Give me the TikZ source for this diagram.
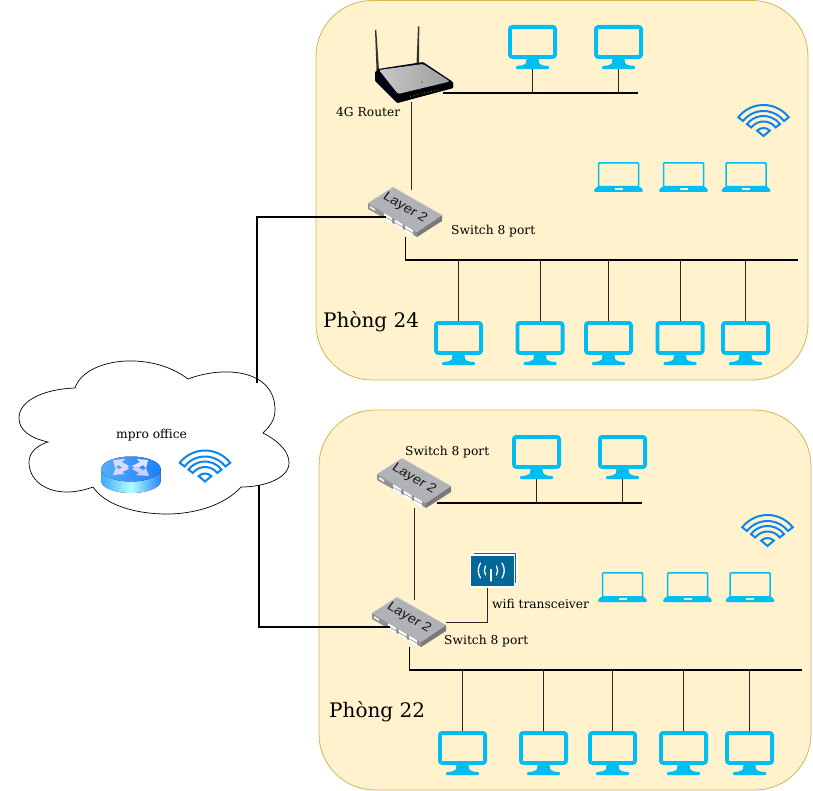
\documentclass[tikz,border=0pt]{standalone}
\usepackage{fontspec}
\setmainfont{DejaVu Serif}
\newfontfamily\swfont{Liberation Sans}
\usetikzlibrary{calc}
\definecolor{roomfill}{HTML}{FFF2CC}
\definecolor{roomline}{HTML}{D6B656}
\definecolor{pcblue}{HTML}{00BEF2}
\definecolor{wifiblue}{HTML}{0A86EE}
\definecolor{swtop}{HTML}{B0B2B5}
\definecolor{swfront}{HTML}{8F9194}
\definecolor{swside}{HTML}{77797C}
\definecolor{trblue}{HTML}{036897}
\tikzset{
  x=1pt,y=-1pt,
  room/.style={draw=roomline,fill=roomfill,line width=0.8pt,rounded corners=56pt},
  lbl/.style={font=\fontsize{12.25}{14}\selectfont,inner sep=0pt,anchor=west,text=black},
  roomlbl/.style={font=\fontsize{20}{24}\selectfont,inner sep=0pt,anchor=west,text=black},
  bus/.style={draw=black,line width=2pt},
  drop/.style={draw=black!85,line width=1pt},
  trunk/.style={draw=black,line width=2pt},
  monitoricon/.pic={
    \draw[pcblue,line width=3.8pt,rounded corners=2.5pt] (-22.6,1.9) rectangle (22.6,32);
    \fill[pcblue] (-6,33) -- (6,33) -- (6.5,38) .. controls (7.5,40) and (12,41) .. (15,41)
       -- (-15,41) .. controls (-12,41) and (-7.5,40) .. (-6.5,38) -- cycle;
    \fill[pcblue,rounded corners=1pt] (-16.5,41) rectangle (16.5,44.2);
    \coordinate (-top) at (0,0);
    \coordinate (-base) at (0,44);
  },
  laptopicon/.pic={
    \draw[pcblue,line width=1.5pt,rounded corners=1pt] (-20,0.8) rectangle (20,25);
    \fill[pcblue,rounded corners=1.5pt] (-20.5,24) -- (20.5,24) -- (24.8,28) -- (24.5,30) -- (-24.5,30) -- (-24.8,28) -- cycle;
    \fill[roomfill] (-4,26.2) rectangle (4,28);
  },
  wifiicon/.pic={
    \begin{scope}[yscale=-1,wifiblue,line width=2pt,line join=miter]
      \draw (38:32) arc (38:142:32) -- (142:26) arc (142:38:26) -- cycle;
      \draw (38:21) arc (38:142:21) -- (142:15.5) arc (142:38:15.5) -- cycle;
      \draw (0,1) -- (45:9) arc (45:135:9) -- cycle;
    \end{scope}
  },
  switchicon/.pic={
    \fill[swfront] (0,16) -- (49,45) -- (49,50) -- (0,22) -- cycle;
    \fill[swside] (49,45) -- (74,28) -- (74,34) -- (49,50) -- cycle;
    \fill[swtop] (0,16) -- (25,0) -- (74,28) -- (49,45) -- cycle;
    \draw[white!85!black,line width=0.4pt] (0,16) -- (25,0) -- (74,28);
    \fill[white!90!swfront] (2,19) -- (7,22) -- (7,24) -- (2,21) -- cycle;
    \foreach \px in {16,26.5,37}{
      \fill[white] (\px,{16+0.59*\px+0.7}) -- ({\px+8},{16+0.59*(\px+8)+0.7}) -- ({\px+8},{16+0.59*(\px+8)+3.2}) -- (\px,{16+0.59*\px+3.2}) -- cycle;
      \fill[white] (\px,{16+0.59*\px+4.2}) -- ({\px+8},{16+0.59*(\px+8)+4.2}) -- ({\px+8},{16+0.59*(\px+8)+6.6}) -- (\px,{16+0.59*\px+6.6}) -- cycle;
    }
    \begin{scope}[shift={(37,21)},cm={1.0,-0.57,0.62,0.85,(0,0)}]
      \node[transform shape,font=\swfont\fontsize{12.5}{15}\selectfont,inner sep=0pt,text=black!90] (-txt) at (0,0) {Layer 2};
    \end{scope}
    \coordinate (-left) at (17.5,30);
    \coordinate (-top) at (43,3);
    \coordinate (-bot) at (37.5,50);
    \coordinate (-right) at (60,45);
    \coordinate (-rside) at (74,25);
  },
}
\begin{document}
\begin{tikzpicture}
\useasboundingbox (0,0) rectangle (813,791);
\fill[white] (0,0) rectangle (813,791);
% rooms
\draw[room] (316,0.5) rectangle (808,380);
\draw[room] (319,410) rectangle (811,790);
\node[roomlbl] (p24) at (323,322) {Phòng 24};
\node[roomlbl] (p22) at (329,712) {Phòng 22};
% cloud
\draw[black,fill=white,line width=0.7pt] (75,388)
  .. controls (85,358) and (150,350) .. (188,379)
  .. controls (225,365) and (275,370) .. (275,410)
  .. controls (275,420) and (270,426) .. (263,433)
  .. controls (280,442) and (289,452) .. (289,463)
  .. controls (289,478) and (265,487) .. (241,487)
  .. controls (225,505) and (195,514) .. (167,514)
  .. controls (135,514) and (105,505) .. (93,487)
  .. controls (85,490) and (75,492) .. (67,492)
  .. controls (45,492) and (29,480) .. (29,462)
  .. controls (29,452) and (38,445) .. (48,442)
  .. controls (30,438) and (19,430) .. (19,418)
  .. controls (19,400) and (45,389) .. (75,388) -- cycle;
\coordinate (cloudtop) at (256.5,383);
\coordinate (cloudbot) at (258.5,485);
\node[lbl] (mpro) at (116,435) {mpro office};
% cloud router
\begin{scope}[shift={(131,469)}]
  \fill[left color=blue!45!cyan!75!white,right color=blue!55!cyan!85!white,middle color=cyan!30!white]
    (-29.7,0) -- (-29.7,12) arc (180:0:29.7 and 12) -- (29.7,0) -- cycle;
  \fill[left color=cyan!50!blue!65!white,right color=blue!55!cyan!90!white] (0,0) ellipse (29.7 and 12.5);
  \fill[white!85!blue] (-18,-9) -- (-6,-10) -- (-9,-7) -- (-2,-3) -- (-6,0) -- (-13,-4) -- (-16,-1) -- cycle;
  \fill[white!85!blue] (-18,6) -- (-15,-2) -- (-12,0) -- (-5,-3) -- (-2,0) -- (-9,3) -- (-6,5) -- cycle;
  \fill[white!90!blue] (17,-9) -- (6,-10) -- (9,-7) -- (1,-3) -- (5,0) -- (12,-4) -- (15,-1) -- cycle;
  \fill[white!80!blue] (18,7) -- (15,-1) -- (12,1) -- (5,-3) -- (1,0) -- (8,4) -- (5,6) -- cycle;
\end{scope}
\pic at (205,482.5) {wifiicon};
% room 24 router
\fill[black!80] (375,30) -- (376.3,30) -- (379,70) -- (376.5,70) -- cycle;
\fill[black!80] (418,26.5) -- (419.3,26.5) -- (419,64) -- (416.5,64) -- cycle;
\fill[black!92!blue,rounded corners=1pt] (375,72) -- (378,69) -- (423,62) -- (453,82) -- (453,88) -- (397,103) -- (394,100) -- (375,81) -- cycle;
\shade[left color=white!78!black,right color=white!62!black,rounded corners=1.5pt] (379,70) -- (423,64) -- (450,81.5) -- (398,94) -- cycle;
\fill[black] (397,96) -- (453,83) -- (453,88) -- (397,103) -- cycle;
\fill[black!55] (422,82) circle (1);
\foreach \lx/\ly in {410.5/96.3,414/95.5,417.5/94.7,421/93.9,424.5/93.1,428/92.3,431.5/91.5,435/90.7,438.5/90}{
  \fill[green!75!black] (\lx,\ly) circle (0.6);
}
\coordinate (rtrbus) at (443,93);
\coordinate (rtrbot) at (411,102);
\node[lbl] (rtrlbl) at (336,112.5) {4G Router};
% wifi transceiver
\draw[white,fill=trblue,line width=1.2pt] (473,552) rectangle (517,584);
\draw[white,fill=trblue,line width=1.2pt] (470.5,555) rectangle (514.5,587);
\begin{scope}[white,line width=1.3pt,line cap=round]
  \draw (491,569.5) -- (491,581);
  \draw (485.5,566) .. controls (484,569) and (484,572) .. (485.5,575);
  \draw (480.5,563) .. controls (477.5,568) and (477.5,573) .. (480.5,578);
  \draw (496.5,566) .. controls (498,569) and (498,572) .. (496.5,575);
  \draw (502,563) .. controls (505,568) and (505,573) .. (502,578);
\end{scope}
\coordinate (trbot) at (487,588);
\node[lbl] (trlbl) at (492,604) {wifi transceiver};
% switches
\pic (sw1) at (368,187) {switchicon};
\pic (sw2) at (377,458) {switchicon};
\pic (sw3) at (372,597) {switchicon};
\node[lbl] (sw1lbl) at (451,231) {Switch 8 port};
\node[lbl] (sw2lbl) at (405,452) {Switch 8 port};
\node[lbl] (sw3lbl) at (444,641) {Switch 8 port};
% monitors
\foreach \mn/\mx/\my in {a1/532.5/25,a2/618.5/25,b1/458.5/321,b2/540/321,b3/608.5/321,b4/680/321,b5/745.5/321,
  c1/536.5/435,c2/622.5/435,d1/462.5/731,d2/543.5/731,d3/612.5/731,d4/683.5/731,d5/749.5/731}{
  \pic (\mn) at (\mx,\my) {monitoricon};
}
% laptops
\foreach \lx/\ly in {618.5/162,683.5/162,746/162,622.5/572,687.5/572,750/572}{
  \pic at (\lx,\ly) {laptopicon};
}
\pic at (763.5,137) {wifiicon};
\pic at (767.5,547) {wifiicon};
% bus ends
\coordinate (bus1e) at (638,93);
\coordinate (bus2e) at (798,260);
\coordinate (bus3e) at (642,503);
\coordinate (bus4e) at (802,670);
% connectors room 24
\draw[trunk] (cloudtop) |- (sw1-left);
\draw[drop] (rtrbot) -- (rtrbot |- sw1-top);
\draw[bus] (rtrbus) -- (bus1e);
\foreach \mn in {a1,a2}{ \draw[drop] (\mn-base) -- (\mn-base |- bus1e); }
\draw[bus,line width=1.6pt] (sw1-bot) |- (bus2e);
\foreach \mn in {b1,b2,b3,b4,b5}{ \draw[drop] (\mn-top) -- (\mn-top |- bus2e); }
% connectors room 22
\draw[trunk] (cloudbot) |- (sw3-left);
\draw[drop] (sw2-bot) -- (sw2-bot |- sw3-top);
\draw[bus] (sw2-right |- bus3e) -- (bus3e);
\foreach \mn in {c1,c2}{ \draw[drop] (\mn-base) -- (\mn-base |- bus3e); }
\draw[drop] (trbot) -- (trbot |- sw3-rside) -- (sw3-rside);
\draw[bus,line width=1.6pt] (sw3-bot) |- (bus4e);
\foreach \mn in {d1,d2,d3,d4,d5}{ \draw[drop] (\mn-top) -- (\mn-top |- bus4e); }
\end{tikzpicture}
\end{document}
